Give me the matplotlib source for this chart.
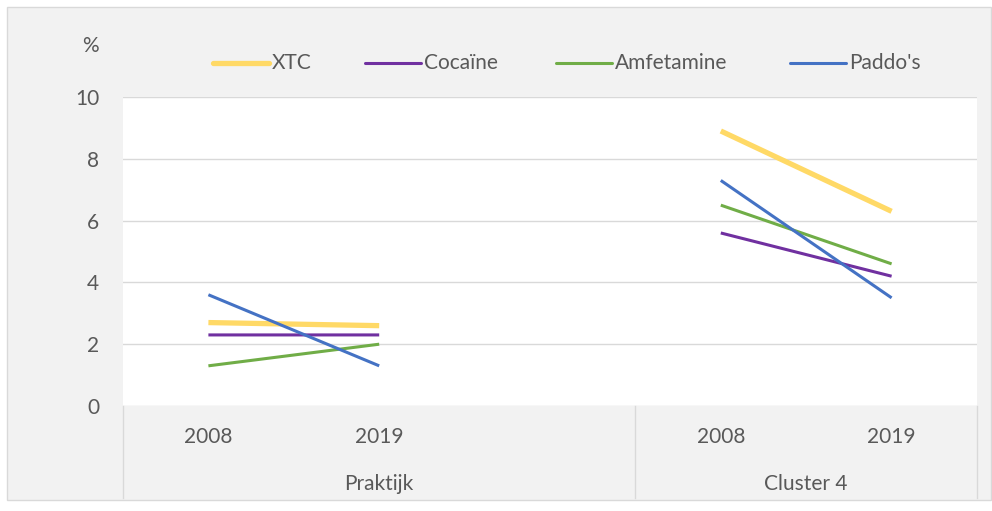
import numpy as np
import matplotlib
matplotlib.use("Agg")
import matplotlib.pyplot as plt
from matplotlib.patches import Rectangle
from matplotlib.lines import Line2D
from matplotlib.transforms import blended_transform_factory

plt.rcParams['font.family'] = ['Lato', 'DejaVu Sans']

# data
years = ["2008", "2019", "", "2008", "2019"]
groups = ["Praktijk", "Cluster 4"]
group_centers = [1.0, 3.5]
series = ["XTC", "Cocaïne", "Amfetamine", "Paddo's"]
xtc = [2.7, 2.6, np.nan, 8.9, 6.3]
cocaine = [2.3, 2.3, np.nan, 5.6, 4.2]
amfetamine = [1.3, 2.0, np.nan, 6.5, 4.6]
paddos = [3.6, 1.3, np.nan, 7.3, 3.5]

colors = ["#FFD966", "#7030A0", "#70AD47", "#4472C4"]
widths = [3.8, 2.2, 2.2, 2.2]
legend_x = [213, 365, 556, 790]  # pixel start of each legend key
txt = "#595959"
grid = "#D9D9D9"
fs = 15

W, H = 992, 511
fig = plt.figure(figsize=(W / 100, H / 100), dpi=100, facecolor="white")
fig.patches.append(Rectangle((7 / W, 1 - 500 / H), 984 / W, 493 / H,
                             transform=fig.transFigure, facecolor="#F2F2F2",
                             edgecolor=grid, linewidth=1, zorder=-5))

ax = fig.add_axes([123 / W, 1 - 406 / H, (977 - 123) / W, (406 - 97) / H])
ax.set_facecolor("white")

x = np.arange(len(years))
for vals, name, c, lw in zip([xtc, cocaine, amfetamine, paddos], series, colors, widths):
    ax.plot(x, vals, color=c, linewidth=lw, label=name, solid_capstyle="butt", zorder=3)

ax.set_xlim(-0.5, len(years) - 0.5)
ax.set_ylim(0, 10)
ax.set_yticks([0, 2, 4, 6, 8, 10])
ax.yaxis.grid(True, color=grid, linewidth=1)
ax.set_axisbelow(True)
ax.tick_params(axis="y", length=0, pad=17, labelsize=fs, labelcolor=txt)
ax.set_xticks([])
for s in ax.spines.values():
    s.set_visible(False)

# category axis
tr = blended_transform_factory(ax.transData, ax.transAxes)
px = 1 / (406 - 97)
for i, lab in enumerate(years):
    if lab:
        ax.text(i, -31 * px, lab, transform=tr, ha="center", va="center",
                fontsize=fs, color=txt)
for gx, g in zip(group_centers, groups):
    ax.text(gx, -78 * px, g, transform=tr, ha="center", va="center",
            fontsize=fs, color=txt)
for sx in [-0.5, 2.5, 4.5]:
    ax.add_line(Line2D([sx, sx], [0, -92 * px], transform=tr, color=grid,
                       linewidth=1, clip_on=False))

fig.text(99 / W, 1 - 46 / H, "%", ha="right", va="center", fontsize=fs, color=txt)

# legend
ly = 1 - 63 / H
for lx, name, c, lw in zip(legend_x, series, colors, widths):
    fig.add_artist(Line2D([lx / W, (lx + 56) / W], [ly, ly], color=c, linewidth=lw,
                          solid_capstyle="round", transform=fig.transFigure))
    fig.text((lx + 59) / W, ly, name, ha="left", va="center", fontsize=fs, color=txt)

fig.savefig("out.png", dpi=100, facecolor="white")
